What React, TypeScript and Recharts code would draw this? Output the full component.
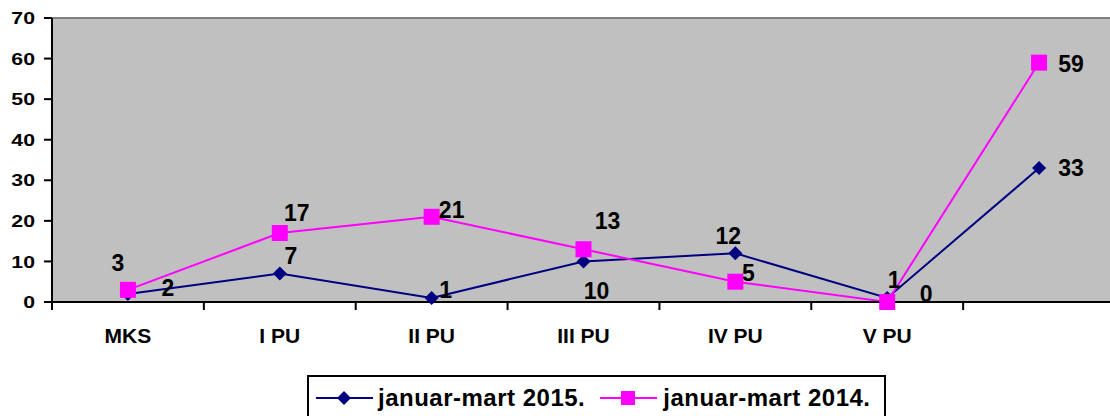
import { LineChart, Line, XAxis, YAxis, CartesianGrid, Legend, LabelList, ReferenceLine } from "recharts"

const categories = ["MKS", "I PU", "II PU", "III PU", "IV PU", "V PU", ""]
const values2015 = [2, 7, 1, 10, 12, 1, 33]
const values2014 = [3, 17, 21, 13, 5, 0, 59]
const yTicks = [0, 10, 20, 30, 40, 50, 60, 70]
const name2015 = "januar-mart 2015."
const name2014 = "januar-mart 2014."

// where each value label sits, relative to its point (Excel moved them by hand)
const labelShift2015 = [[40, -6], [11, -18], [14, -8], [13, 29], [-7, -18], [7, -18], [32, 0]]
const labelShift2014 = [[-10, -27], [17, -20], [20, -7], [24, -29], [13, -9], [39, -8], [32, 1]]

const data = categories.map((name, i) => ({
    name,
    y2015: values2015[i],
    y2014: values2014[i],
}))

const FONT = "'Liberation Sans', Arial, sans-serif"
const NAVY = "#000080"
const MAGENTA = "#FF00FF"

const CHART_W = 1120
const Y_AXIS_W = 52
const MARGIN = { top: 18, right: 5, left: 0, bottom: 0 }
const BAND = (CHART_W - Y_AXIS_W - MARGIN.left - MARGIN.right) / categories.length

function Diamond({ cx, cy, r = 7, fill }: any) {
    if (cx == null || cy == null) return null
    return <polygon points={`${cx},${cy - r} ${cx + r},${cy} ${cx},${cy + r} ${cx - r},${cy}`} fill={fill} />
}

function Square({ cx, cy, s = 16, fill }: any) {
    if (cx == null || cy == null) return null
    return <rect x={cx - s / 2} y={cy - s / 2} width={s} height={s} fill={fill} />
}

function XTick({ x, y, payload }: any) {
    const left = x - BAND / 2
    return (
        <g>
            <line x1={left} y1={y} x2={left} y2={y + 8} stroke="#000" strokeWidth={2} />
            <text x={x} y={y + 41} textAnchor="middle" fontFamily={FONT} fontWeight="bold" fontSize={21} fill="#000">
                {payload.value}
            </text>
        </g>
    )
}

function YTick({ x, y, payload }: any) {
    return (
        <text
            transform={`translate(${x},${y}) scale(1.25,1)`}
            dy="0.36em"
            textAnchor="end"
            fontFamily={FONT}
            fontWeight="bold"
            fontSize={17}
            fill="#000"
        >
            {payload.value}
        </text>
    )
}

function makeLabel(shift: number[][]) {
    return (props: any) => {
        const { x, y, value, index } = props
        const [dx, dy] = shift[index] || [0, 0]
        return (
            <text
                x={x + dx}
                y={y + dy}
                dy="0.36em"
                textAnchor="middle"
                fontFamily={FONT}
                fontWeight="bold"
                fontSize={23}
                fill="#000"
            >
                {value}
            </text>
        )
    }
}

function LegendIcon({ color, square }: { color: string; square?: boolean }) {
    return (
        <svg width={57} height={16} style={{ display: "block" }}>
            <line x1={0} y1={8} x2={57} y2={8} stroke={color} strokeWidth={2} />
            {square ? <rect x={21} y={1} width={14} height={14} fill={color} /> : <polygon points="28,1 35,8 28,15 21,8" fill={color} />}
        </svg>
    )
}

function LegendBox() {
    const text = { fontFamily: FONT, fontWeight: "bold" as const, fontSize: 24, letterSpacing: 0.5, color: "#000", lineHeight: "24px" }
    return (
        <div
            style={{
                boxSizing: "border-box",
                width: 579,
                height: 46,
                border: "2px solid #000",
                background: "#fff",
                display: "flex",
                alignItems: "center",
                paddingLeft: 7,
            }}
        >
            <LegendIcon color={NAVY} />
            <span style={{ ...text, marginLeft: 5 }}>{name2015}</span>
            <span style={{ marginLeft: 15 }}>
                <LegendIcon color={MAGENTA} square />
            </span>
            <span style={{ ...text, marginLeft: 6 }}>{name2014}</span>
        </div>
    )
}

export default function App() {
    return (
        <div style={{ position: "absolute", left: 0, top: 0, width: 1110, height: 416, overflow: "hidden", background: "#fff" }}>
            <LineChart width={CHART_W} height={416} data={data} margin={MARGIN}>
                <CartesianGrid fill="#C0C0C0" horizontal={false} vertical={false} />
                <ReferenceLine y={70} stroke="#808080" strokeWidth={2} />
                <XAxis
                    dataKey="name"
                    scale="band"
                    height={114}
                    interval={0}
                    axisLine={{ stroke: "#000", strokeWidth: 2 }}
                    tickLine={false}
                    tickSize={0}
                    tickMargin={0}
                    tick={<XTick />}
                />
                <YAxis
                    width={Y_AXIS_W}
                    domain={[0, 70]}
                    ticks={yTicks}
                    interval={0}
                    axisLine={{ stroke: "#000", strokeWidth: 2 }}
                    tickLine={{ stroke: "#000", strokeWidth: 2 }}
                    tickSize={8}
                    tickMargin={9}
                    tick={<YTick />}
                />
                <Legend
                    layout="horizontal"
                    verticalAlign="middle"
                    align="center"
                    wrapperStyle={{ left: 307, top: 375, width: 579, height: 46 }}
                    content={() => <LegendBox />}
                />
                <Line
                    dataKey="y2015"
                    name={name2015}
                    stroke={NAVY}
                    strokeWidth={2}
                    dot={(p: any) => <Diamond key={`d${p.index}`} cx={p.cx} cy={p.cy} fill={NAVY} />}
                    activeDot={false}
                    isAnimationActive={false}
                >
                    <LabelList dataKey="y2015" content={makeLabel(labelShift2015)} />
                </Line>
                <Line
                    dataKey="y2014"
                    name={name2014}
                    stroke={MAGENTA}
                    strokeWidth={2}
                    dot={(p: any) => <Square key={`s${p.index}`} cx={p.cx} cy={p.cy} fill={MAGENTA} />}
                    activeDot={false}
                    isAnimationActive={false}
                >
                    <LabelList dataKey="y2014" content={makeLabel(labelShift2014)} />
                </Line>
            </LineChart>
        </div>
    )
}
